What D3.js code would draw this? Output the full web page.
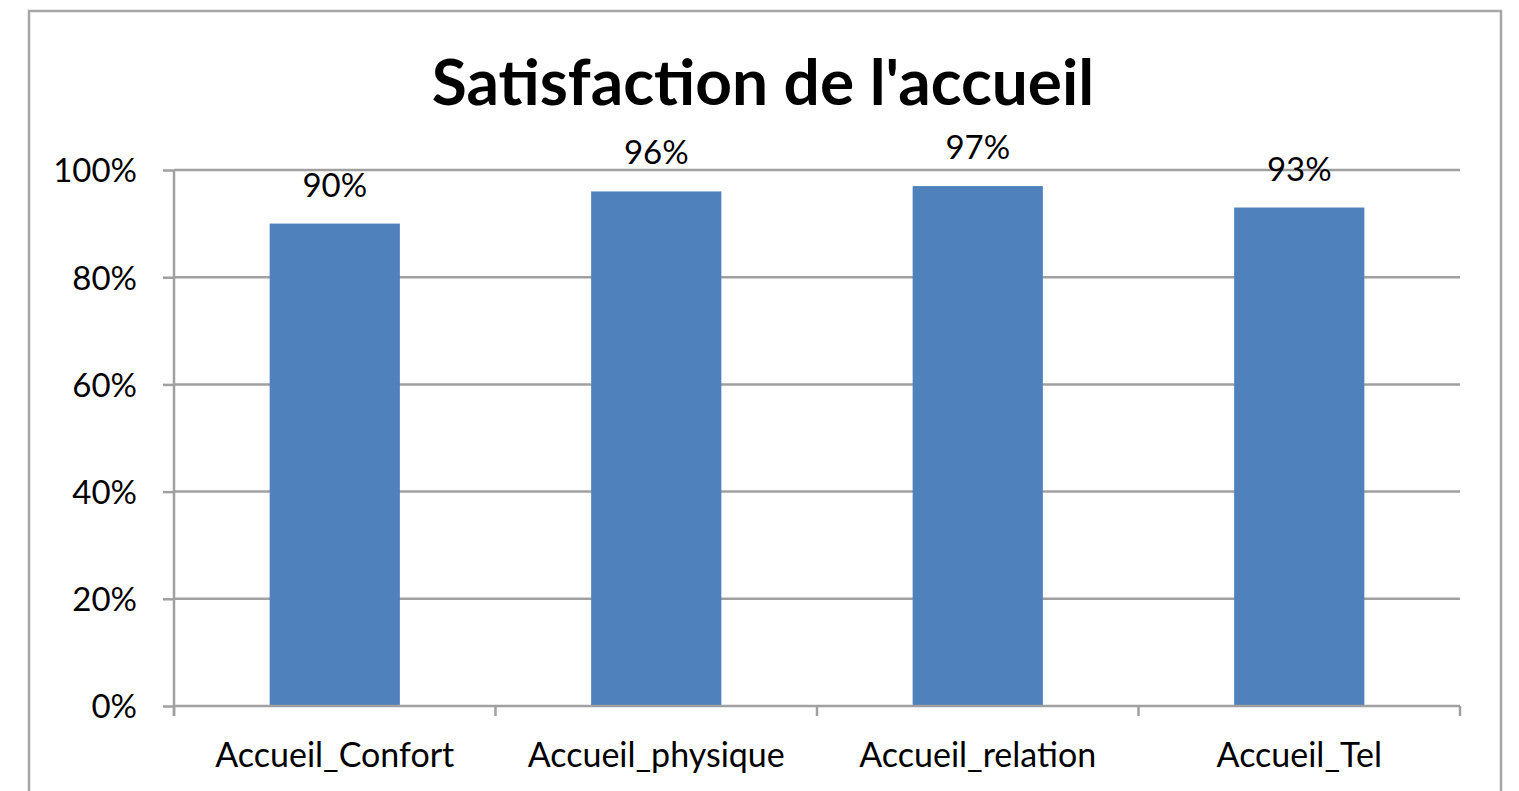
<!DOCTYPE html>
<html>
<head>
<meta charset="utf-8">
<script src="https://cdn.jsdelivr.net/npm/d3@7"></script>
<style>
  body { margin: 0; background: #fff; }
  svg { display: block; }
  text { font-family: Lato, "Open Sans", sans-serif; fill: #000; }
</style>
</head>
<body>
<div id="chart"></div>
<script>
var categories = ['Accueil_Confort', 'Accueil_physique', 'Accueil_relation', 'Accueil_Tel'];
var values = [0.90, 0.96, 0.97, 0.93];
var yTicks = [0, 0.2, 0.4, 0.6, 0.8, 1.0];
var title = "Satisfaction de l'accueil";

var svgWidth = 1519,
    svgHeight = 791,
    margin = {top: 170, left: 174, right: 59, bottom: 85},
    barColor = '#4f81bd',
    gridColor = '#a0a0a0';

var svg = d3.select('#chart')
  .append('svg')
  .attr('width', svgWidth)
  .attr('height', svgHeight);

// outer chart frame (runs past the bottom of the window)
svg.append('rect')
  .attr('x', 29).attr('y', 11)
  .attr('width', 1472).attr('height', 900)
  .attr('fill', 'none')
  .attr('stroke', '#a6a6a6')
  .attr('stroke-width', 2.5);

var plotW = svgWidth - margin.left - margin.right,
    plotH = svgHeight - margin.top - margin.bottom;

var x = d3.scaleBand()
  .domain(categories)
  .range([0, plotW])
  .paddingInner(0.595)
  .paddingOuter(0.2975);

var xBound = d3.scaleLinear().domain([0, categories.length]).range([0, plotW]);

var y = d3.scaleLinear().domain([0, 1]).range([plotH, 0]);

var g = svg.append('g').attr('transform', 'translate(' + margin.left + ',' + margin.top + ')');

// gridlines + y ticks
var yAxis = d3.axisLeft(y)
  .tickValues(yTicks)
  .tickFormat(d3.format('.0%'))
  .tickSize(11)
  .tickPadding(26);

var ya = g.append('g').call(yAxis);
ya.select('.domain').remove();
ya.selectAll('line').attr('stroke', gridColor).attr('stroke-width', 2.5);
ya.selectAll('text')
  .style('font-size', '33px')
  .attr('dy', '0.36em')
  .style('fill', '#000');

g.append('g').selectAll('line.grid')
  .data(yTicks.filter(function(d){ return d > 0; }))
  .enter().append('line')
  .attr('x1', 0).attr('x2', plotW)
  .attr('y1', function(d){ return y(d); })
  .attr('y2', function(d){ return y(d); })
  .attr('stroke', gridColor)
  .attr('stroke-width', 2.5);

// bars
g.selectAll('rect.bar')
  .data(values)
  .enter().append('rect')
  .attr('class', 'bar')
  .attr('x', function(d, i){ return x(categories[i]); })
  .attr('width', x.bandwidth())
  .attr('y', function(d){ return y(d); })
  .attr('height', function(d){ return plotH - y(d); })
  .attr('fill', barColor);

// axes lines
g.append('line')
  .attr('x1', 0).attr('x2', 0)
  .attr('y1', 0).attr('y2', plotH + 10)
  .attr('stroke', gridColor).attr('stroke-width', 2.5);
g.append('line')
  .attr('x1', 0).attr('x2', plotW)
  .attr('y1', plotH).attr('y2', plotH)
  .attr('stroke', gridColor).attr('stroke-width', 2.5);

g.selectAll('line.xtick')
  .data(d3.range(categories.length + 1))
  .enter().append('line')
  .attr('x1', function(d){ return xBound(d); })
  .attr('x2', function(d){ return xBound(d); })
  .attr('y1', plotH).attr('y2', plotH + 10)
  .attr('stroke', gridColor).attr('stroke-width', 2.5);

// category labels
g.selectAll('text.cat')
  .data(categories)
  .enter().append('text')
  .attr('x', function(d){ return x(d) + x.bandwidth() / 2; })
  .attr('y', plotH + 61)
  .attr('text-anchor', 'middle')
  .style('font-size', '34px')
  .text(function(d){ return d; });

// data labels
g.selectAll('text.val')
  .data(values)
  .enter().append('text')
  .attr('x', function(d, i){ return x(categories[i]) + x.bandwidth() / 2; })
  .attr('y', function(d){ return y(d) - 27; })
  .attr('text-anchor', 'middle')
  .style('font-size', '33px')
  .text(function(d){ return d3.format('.0%')(d); });

// title
svg.append('text')
  .attr('x', 763)
  .attr('y', 105)
  .attr('text-anchor', 'middle')
  .style('font-size', '64px')
  .style('font-weight', 'bold')
  .text(title);
</script>
</body>
</html>
